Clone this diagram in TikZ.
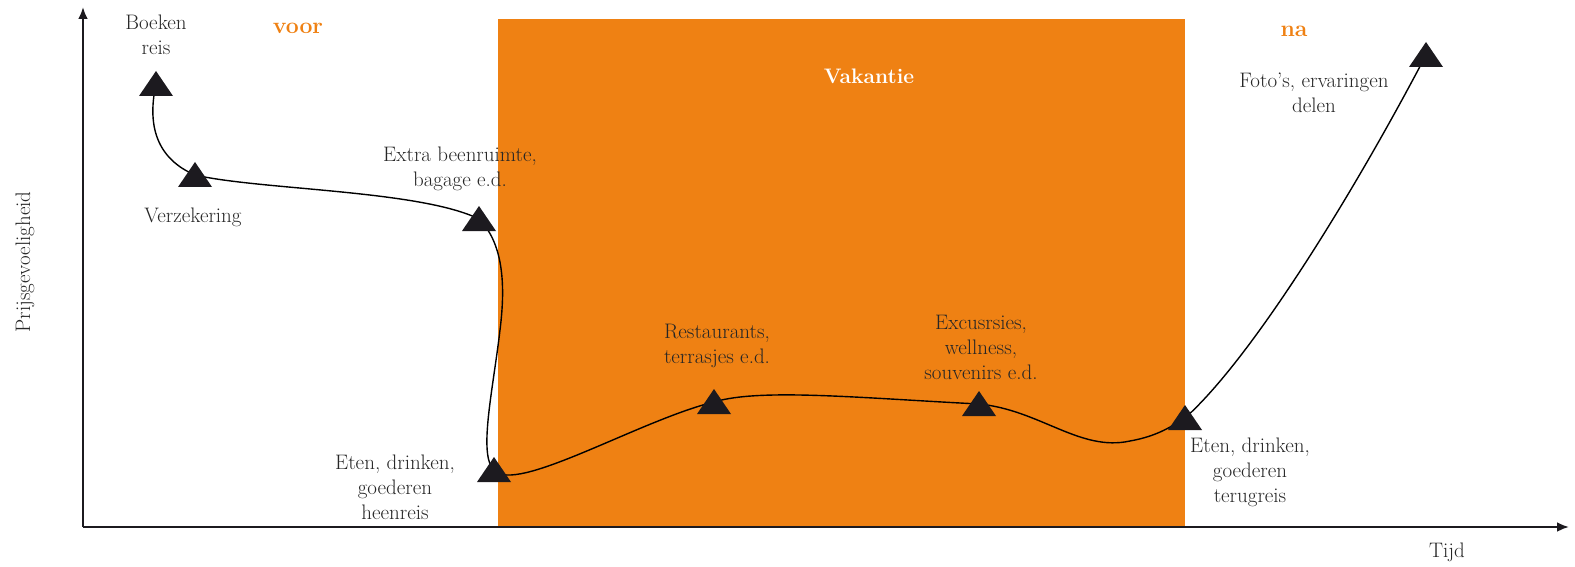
\documentclass[tikz,border=0pt]{standalone}
\usetikzlibrary{arrows.meta}
\definecolor{vorange}{HTML}{EF8113}
\definecolor{vdark}{HTML}{1C1A1F}
\definecolor{vtext}{HTML}{262626}
\begin{document}
\begin{tikzpicture}[x=1pt,y=-1pt,
  lbl/.style={text=vtext,align=center,font=\fontsize{21}{25}\selectfont,inner sep=0pt},
  hdr/.style={text=vorange,font=\fontsize{23}{26}\selectfont\bfseries,inner sep=0pt},
  axis/.style={draw=vdark,line width=2.6pt,-{Latex[length=12pt,width=10pt]}},
  curve/.style={draw=black,line width=1.4pt},
  tri/.pic={\fill[vdark] (-17,12) -- (17,12) -- (0,-13) -- cycle;}]
\useasboundingbox (0,0) rectangle (1575,567);
% holiday block
\fill[vorange] (498,19) rectangle (1185,527);
% axes
\coordinate (o) at (83,527);
\coordinate (ytop) at (83,7);
\coordinate (xend) at (1569,527);
\draw[axis] (o) -- (ytop);
\draw[axis] (o) -- (xend);
% key points
\coordinate (t1) at (156,84);
\coordinate (t2) at (195,175);
\coordinate (t3) at (479,219);
\coordinate (t4) at (494,470);
\coordinate (t5) at (714,402);
\coordinate (t6) at (979,404);
\coordinate (t7) at (1185,418);
\coordinate (t8) at (1426,55);
% curve
\draw[curve] (t1) .. controls (146,130) and (160,160) .. (t2)
  .. controls (260,190) and (420,190) .. (t3)
  .. controls (505,245) and (505,290) .. (500,330)
  .. controls (493,390) and (478,455) .. (t4)
  .. controls (515,495) and (640,420) .. (t5)
  .. controls (760,388) and (860,398) .. (t6)
  .. controls (1040,410) and (1080,452) .. (1130,441)
  .. controls (1158,436) and (1172,426) .. (t7)
  .. controls (1250,360) and (1350,200) .. (t8);
% triangles
\foreach \t in {t1,t2,t3,t4,t5,t6,t7,t8} \pic at (\t) {tri};
% headers
\node[hdr] (voor) at (298,28) {voor};
\node[hdr] (na) at (1294,31) {na};
\node[hdr,text=white,font=\fontsize{21}{25}\selectfont\bfseries] (vak) at (869,76) {Vakantie};
% labels
\node[lbl] (l1) at (156,35) {Boeken\\reis};
\node[lbl] (l2) at (193,217) {Verzekering};
\node[lbl] (l3) at (460,169) {Extra beenruimte,\\bagage e.d.};
\node[lbl] (l4) at (395,487) {Eten, drinken,\\goederen\\heenreis};
\node[lbl] (l5) at (717,346) {Restaurants,\\terrasjes e.d.};
\node[lbl] (l6) at (981,347) {Excusrsies,\\wellness,\\souvenirs e.d.};
\node[lbl] (l7) at (1250,472) {Eten, drinken,\\goederen\\terugreis};
\node[lbl] (l8) at (1314,93) {Foto’s, ervaringen\\delen};
\node[lbl] (tijd) at (1447,552) {Tijd};
\node[lbl,rotate=90] (prijs) at (25,262) {Prijsgevoeligheid};
\end{tikzpicture}
\end{document}
